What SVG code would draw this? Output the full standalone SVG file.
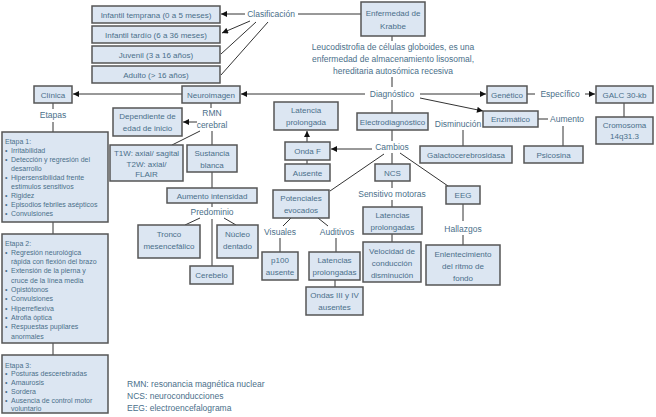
<svg xmlns="http://www.w3.org/2000/svg" width="656" height="417" viewBox="0 0 656 417">
<style>
.b{fill:#dce6f2;stroke:#555;stroke-width:1.5}
text{font-family:"Liberation Sans",Arial,sans-serif;fill:#4a6f8a;font-size:8px}
.c{text-anchor:middle}
.l{font-size:8.5px}
.s{font-size:7px}
.k{stroke:#333;stroke-width:1;fill:none}
</style>
<defs>
<marker id="a" viewBox="0 0 10 10" refX="10" refY="5" markerWidth="8" markerHeight="6" markerUnits="userSpaceOnUse" orient="auto"><path d="M0,0L10,5L0,10z" fill="#111"/></marker>
</defs>
<rect width="656" height="417" fill="#fff"/>
<g id="connectors">
<path class="k" d="M298,14H361"/>
<path class="k" d="M245,14H221" marker-end="url(#a)"/>
<path class="k" d="M250,21L222,33" marker-end="url(#a)"/>
<path class="k" d="M256,22L221,54"/>
<path class="k" d="M268,22L221,75"/>
<path class="k" d="M392,36V41M392,77V87M392,100V113M392,130V141M392,153V164M392,181V188M392,200V207M392,234V242"/>
<path class="k" d="M365,94H241" marker-end="url(#a)"/>
<path class="k" d="M182,94H73" marker-end="url(#a)"/>
<path class="k" d="M420,94H486" marker-end="url(#a)"/>
<path class="k" d="M420,98L483,111" marker-end="url(#a)"/>
<path class="k" d="M527,94H535"/>
<path class="k" d="M585,94H595" marker-end="url(#a)"/>
<path class="k" d="M624,103V117"/>
<path class="k" d="M463,130V146"/>
<path class="k" d="M538,119H548M563,126V146"/>
<path class="k" d="M372,149H331" marker-end="url(#a)"/>
<path class="k" d="M307,142V131" marker-end="url(#a)"/>
<path class="k" d="M307,160V164"/>
<path class="k" d="M384,154L330,191"/>
<path class="k" d="M291,218L283,226M318,218L328,226"/>
<path class="k" d="M280,238V252M336,238V252M335,280V287"/>
<path class="k" d="M400,153L448,186"/>
<path class="k" d="M463,204V221M463,235V245"/>
<path class="k" d="M211,103V108"/>
<path class="k" d="M197,122H183" marker-end="url(#a)"/>
<path class="k" d="M200,131L172,145"/>
<path class="k" d="M212,131V145M212,172V188M212,203V207M212,219V266"/>
<path class="k" d="M200,218L185,225M224,218L236,225"/>
<path class="k" d="M53,103V109M53,122V132M53,222V234M53,343V355"/>
</g>
<g id="krabbe"><rect class="b" x="361" y="2" width="64" height="34"/><text class="c" x="393" y="16">Enfermedad de</text><text class="c" x="393" y="29">Krabbe</text></g>
<g id="clasificacion"><text class="c l" x="271" y="17">Clasificación</text></g>
<g id="infantil-temprana"><rect class="b" x="92" y="6" width="128" height="17"/><text class="c" x="156" y="17.5">Infantil temprana (0 a 5 meses)</text></g>
<g id="infantil-tardio"><rect class="b" x="92" y="26" width="128" height="17"/><text class="c" x="156" y="37.5">Infantil tardío (6 a 36 meses)</text></g>
<g id="juvenil"><rect class="b" x="92" y="46" width="128" height="17"/><text class="c" x="156" y="57.5">Juvenil (3 a 16 años)</text></g>
<g id="adulto"><rect class="b" x="92" y="66" width="128" height="17"/><text class="c" x="156" y="77.5">Adulto (&gt; 16 años)</text></g>
<g id="definicion"><text class="c l" x="393" y="50">Leucodistrofia de células globoides, es una</text><text class="c l" x="393" y="62">enfermedad de almacenamiento lisosomal,</text><text class="c l" x="393" y="74">hereditaria autosómica recesiva</text></g>
<g id="diagnostico"><text class="c l" x="392" y="97">Diagnóstico</text></g>
<g id="clinica"><rect class="b" x="34" y="86" width="38" height="17"/><text class="c" x="53" y="97.5">Clínica</text></g>
<g id="neuroimagen"><rect class="b" x="182" y="86" width="58" height="17"/><text class="c" x="211" y="97.5">Neuroimagen</text></g>
<g id="genetico"><rect class="b" x="487" y="86" width="40" height="17"/><text class="c" x="507" y="97.5">Genético</text></g>
<g id="especifico"><text class="c l" x="560" y="97">Específico</text></g>
<g id="galc"><rect class="b" x="596" y="86" width="57" height="17"/><text class="c" x="624.5" y="97.5">GALC 30-kb</text></g>
<g id="cromosoma"><rect class="b" x="596" y="117" width="57" height="27"/><text class="c" x="624.5" y="128">Cromosoma</text><text class="c" x="624.5" y="139">14q31.3</text></g>
<g id="enzimatico"><rect class="b" x="483" y="111" width="55" height="16"/><text class="c" x="510.5" y="122">Enzimático</text></g>
<g id="disminucion"><text class="c l" x="458" y="127">Disminución</text></g>
<g id="galacto"><rect class="b" x="420" y="146" width="92" height="17"/><text class="c" x="466" y="157.5">Galactocerebrosidasa</text></g>
<g id="aumento"><text class="c l" x="567" y="122">Aumento</text></g>
<g id="psicosina"><rect class="b" x="524" y="146" width="59" height="17"/><text class="c" x="553.5" y="157.5">Psicosina</text></g>
<g id="electrodiagnostico"><rect class="b" x="357" y="113" width="71" height="17"/><text class="c" x="392.5" y="124.5">Electrodiagnóstico</text></g>
<g id="cambios"><text class="c l" x="392" y="150">Cambios</text></g>
<g id="latencia-prolongada"><rect class="b" x="274" y="102" width="64" height="28"/><text class="c" x="306" y="113">Latencia</text><text class="c" x="306" y="125">prolongada</text></g>
<g id="onda-f"><rect class="b" x="285" y="142" width="45" height="18"/><text class="c" x="307.5" y="154">Onda F</text></g>
<g id="ausente"><rect class="b" x="285" y="164" width="45" height="17"/><text class="c" x="307.5" y="175.5">Ausente</text></g>
<g id="ncs"><rect class="b" x="375" y="164" width="35" height="17"/><text class="c" x="392.5" y="175.5">NCS</text></g>
<g id="sensitivo"><text class="c l" x="392" y="197">Sensitivo motoras</text></g>
<g id="latencias-ncs"><rect class="b" x="363" y="207" width="59" height="27"/><text class="c" x="392.5" y="218">Latencias</text><text class="c" x="392.5" y="230">prolongadas</text></g>
<g id="velocidad"><rect class="b" x="363" y="242" width="58" height="40"/><text class="c" x="392" y="254">Velocidad de</text><text class="c" x="392" y="266">conducción</text><text class="c" x="392" y="278">disminución</text></g>
<g id="potenciales"><rect class="b" x="273" y="190" width="56" height="28"/><text class="c" x="301" y="201">Potenciales</text><text class="c" x="301" y="213">evocados</text></g>
<g id="visuales"><text class="c l" x="280" y="235">Visuales</text></g>
<g id="auditivos"><text class="c l" x="337" y="235">Auditivos</text></g>
<g id="p100"><rect class="b" x="262" y="252" width="36" height="28"/><text class="c" x="280" y="263">p100</text><text class="c" x="280" y="275">ausente</text></g>
<g id="latencias-aud"><rect class="b" x="309" y="252" width="51" height="28"/><text class="c" x="334.5" y="263">Latencias</text><text class="c" x="334.5" y="275">prolongadas</text></g>
<g id="ondas"><rect class="b" x="306" y="287" width="57" height="28"/><text class="c" x="334.5" y="298">Ondas III y IV</text><text class="c" x="334.5" y="310">ausentes</text></g>
<g id="eeg"><rect class="b" x="446" y="186" width="34" height="18"/><text class="c" x="463" y="198">EEG</text></g>
<g id="hallazgos"><text class="c l" x="463" y="232">Hallazgos</text></g>
<g id="enlentecimiento"><rect class="b" x="426" y="245" width="74" height="40"/><text class="c" x="463" y="257">Enlentecimiento</text><text class="c" x="463" y="269">del ritmo de</text><text class="c" x="463" y="281">fondo</text></g>
<g id="rmn"><text class="c l" x="212" y="116">RMN</text><text class="c l" x="212" y="128">cerebral</text></g>
<g id="dependiente"><rect class="b" x="113" y="108" width="69" height="28"/><text class="c" x="147.5" y="119">Dependiente de</text><text class="c" x="147.5" y="131">edad de inicio</text></g>
<g id="t1w"><rect class="b" x="110" y="145" width="73" height="36"/><text class="c" x="146.5" y="156">T1W: axial/ sagital</text><text class="c" x="146.5" y="166.5">T2W: axial/</text><text class="c" x="146.5" y="177">FLAIR</text></g>
<g id="sustancia"><rect class="b" x="187" y="145" width="50" height="27"/><text class="c" x="212" y="156">Sustancia</text><text class="c" x="212" y="168">blanca</text></g>
<g id="aumento-intensidad"><rect class="b" x="167" y="188" width="90" height="15"/><text class="c" x="212" y="198.5">Aumento intensidad</text></g>
<g id="predominio"><text class="c l" x="212" y="215">Predominio</text></g>
<g id="tronco"><rect class="b" x="138" y="225" width="62" height="33"/><text class="c" x="169" y="237">Tronco</text><text class="c" x="169" y="249">mesencefálico</text></g>
<g id="nucleo"><rect class="b" x="217" y="225" width="41" height="33"/><text class="c" x="237.5" y="237">Núcleo</text><text class="c" x="237.5" y="249">dentado</text></g>
<g id="cerebelo"><rect class="b" x="190" y="266" width="43" height="18"/><text class="c" x="211.5" y="278">Cerebelo</text></g>
<g id="etapas"><text class="c l" x="53" y="118">Etapas</text></g>
<g id="etapa1"><rect class="b" x="2" y="132" width="106" height="90"/>
<text class="s" x="5" y="144">Etapa 1:</text>
<text class="s" x="5" y="153">•</text><text class="s" x="11" y="153">Irritabilidad</text>
<text class="s" x="5" y="162">•</text><text class="s" x="11" y="162">Detección y regresión del</text>
<text class="s" x="11" y="171">desarrollo</text>
<text class="s" x="5" y="180">•</text><text class="s" x="11" y="180">Hipersensibilidad frente</text>
<text class="s" x="11" y="189">estímulos sensitivos</text>
<text class="s" x="5" y="198">•</text><text class="s" x="11" y="198">Rigidez</text>
<text class="s" x="5" y="207">•</text><text class="s" x="11" y="207">Episodios febriles asépticos</text>
<text class="s" x="5" y="216">•</text><text class="s" x="11" y="216">Convulsiones</text>
</g>
<g id="etapa2"><rect class="b" x="2" y="234" width="106" height="109"/>
<text class="s" x="5" y="245.5">Etapa 2:</text>
<text class="s" x="5" y="254.8">•</text><text class="s" x="11" y="254.8">Regresión neurológica</text>
<text class="s" x="11" y="264.1">rápida con flexión del brazo</text>
<text class="s" x="5" y="273.4">•</text><text class="s" x="11" y="273.4">Extensión de la pierna y</text>
<text class="s" x="11" y="282.7">cruce de la línea media</text>
<text class="s" x="5" y="292">•</text><text class="s" x="11" y="292">Opistótonos</text>
<text class="s" x="5" y="301.3">•</text><text class="s" x="11" y="301.3">Convulsiones</text>
<text class="s" x="5" y="310.6">•</text><text class="s" x="11" y="310.6">Hiperreflexiva</text>
<text class="s" x="5" y="319.9">•</text><text class="s" x="11" y="319.9">Atrofia óptica</text>
<text class="s" x="5" y="329.2">•</text><text class="s" x="11" y="329.2">Respuestas pupilares</text>
<text class="s" x="11" y="338.5">anormales</text>
</g>
<g id="etapa3"><rect class="b" x="2" y="355" width="106" height="58"/>
<text class="s" x="5" y="367.5">Etapa 3:</text>
<text class="s" x="5" y="376.3">•</text><text class="s" x="11" y="376.3">Posturas descerebradas</text>
<text class="s" x="5" y="385.1">•</text><text class="s" x="11" y="385.1">Amaurosis</text>
<text class="s" x="5" y="393.9">•</text><text class="s" x="11" y="393.9">Sordera</text>
<text class="s" x="5" y="402.7">•</text><text class="s" x="11" y="402.7">Ausencia de control motor</text>
<text class="s" x="11" y="411">voluntario</text>
</g>
<g id="legend">
<text class="l" x="127" y="387">RMN: resonancia magnética nuclear</text>
<text class="l" x="127" y="399">NCS: neuroconducciones</text>
<text class="l" x="127" y="411">EEG: electroencefalograma</text>
</g>
</svg>
